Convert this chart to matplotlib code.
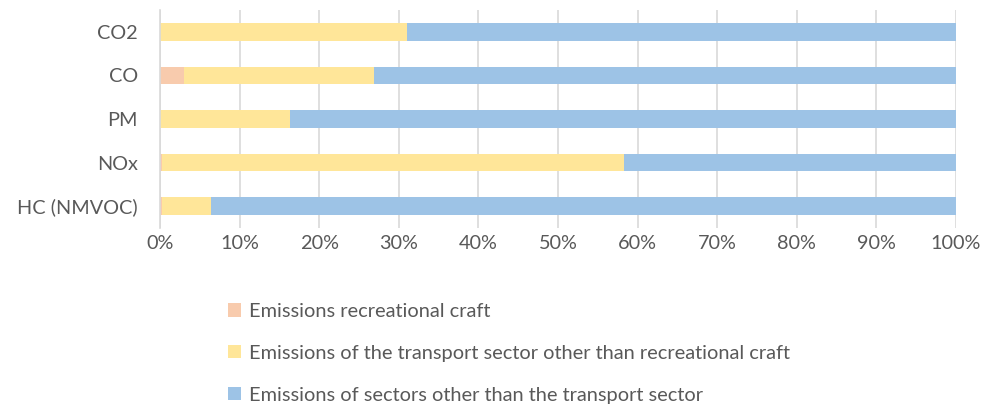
import numpy as np
import matplotlib.pyplot as plt

plt.rcParams['font.family'] = ['Lato', 'DejaVu Sans']

pollutants = ['HC (NMVOC)', 'NOx', 'PM', 'CO', 'CO2']
# shares in % of total emissions
recreational = [0.2, 0.25, 0.0, 3.0, 0.0]
transport_other = [6.2, 58.05, 16.3, 23.9, 31.0]
other_sectors = [93.6, 41.7, 83.7, 73.1, 69.0]

labels = ['Emissions recreational craft',
          'Emissions of the transport sector other than recreational craft',
          'Emissions of sectors other than the transport sector']
colors = ['#F8CBAD', '#FFE699', '#9DC3E6']
txt = '#595959'

fig = plt.figure(figsize=(9.85, 4.05), dpi=100)
ax = fig.add_axes([160/985, 1-228/405, 796/985, 218/405])

y = np.arange(len(pollutants))
left = np.zeros(len(pollutants))
for vals, lab, c in zip([recreational, transport_other, other_sectors], labels, colors):
    vals = np.array(vals)
    ax.barh(y, vals, left=left, height=0.4, color=c, label=lab, zorder=2)
    left += vals

ax.set_xlim(0, 100)
ax.set_ylim(-0.5, 4.5)
ax.set_xticks(np.arange(0, 101, 10))
ax.set_xticklabels([f'{v}%' for v in range(0, 101, 10)])
ax.set_yticks(y)
ax.set_yticklabels(pollutants)
ax.tick_params(axis='both', length=0, labelsize=14.3, colors=txt)
ax.tick_params(axis='x', pad=5)
ax.tick_params(axis='y', pad=16)
ax.grid(axis='x', color='#D9D9D9', linewidth=1.2, zorder=0)
for s in ['top', 'right', 'bottom']:
    ax.spines[s].set_visible(False)
ax.spines['left'].set_color('#D9D9D9')
ax.spines['left'].set_linewidth(1.2)

leg = fig.legend(loc='upper left', bbox_to_anchor=(228/985, 1-303/405),
                 frameon=False, fontsize=14.4, handlelength=0.65, handleheight=0.65,
                 handletextpad=0.4, labelspacing=1.24, borderpad=0, borderaxespad=0)
for t in leg.get_texts():
    t.set_color(txt)

fig.savefig('out.png', dpi=100)
